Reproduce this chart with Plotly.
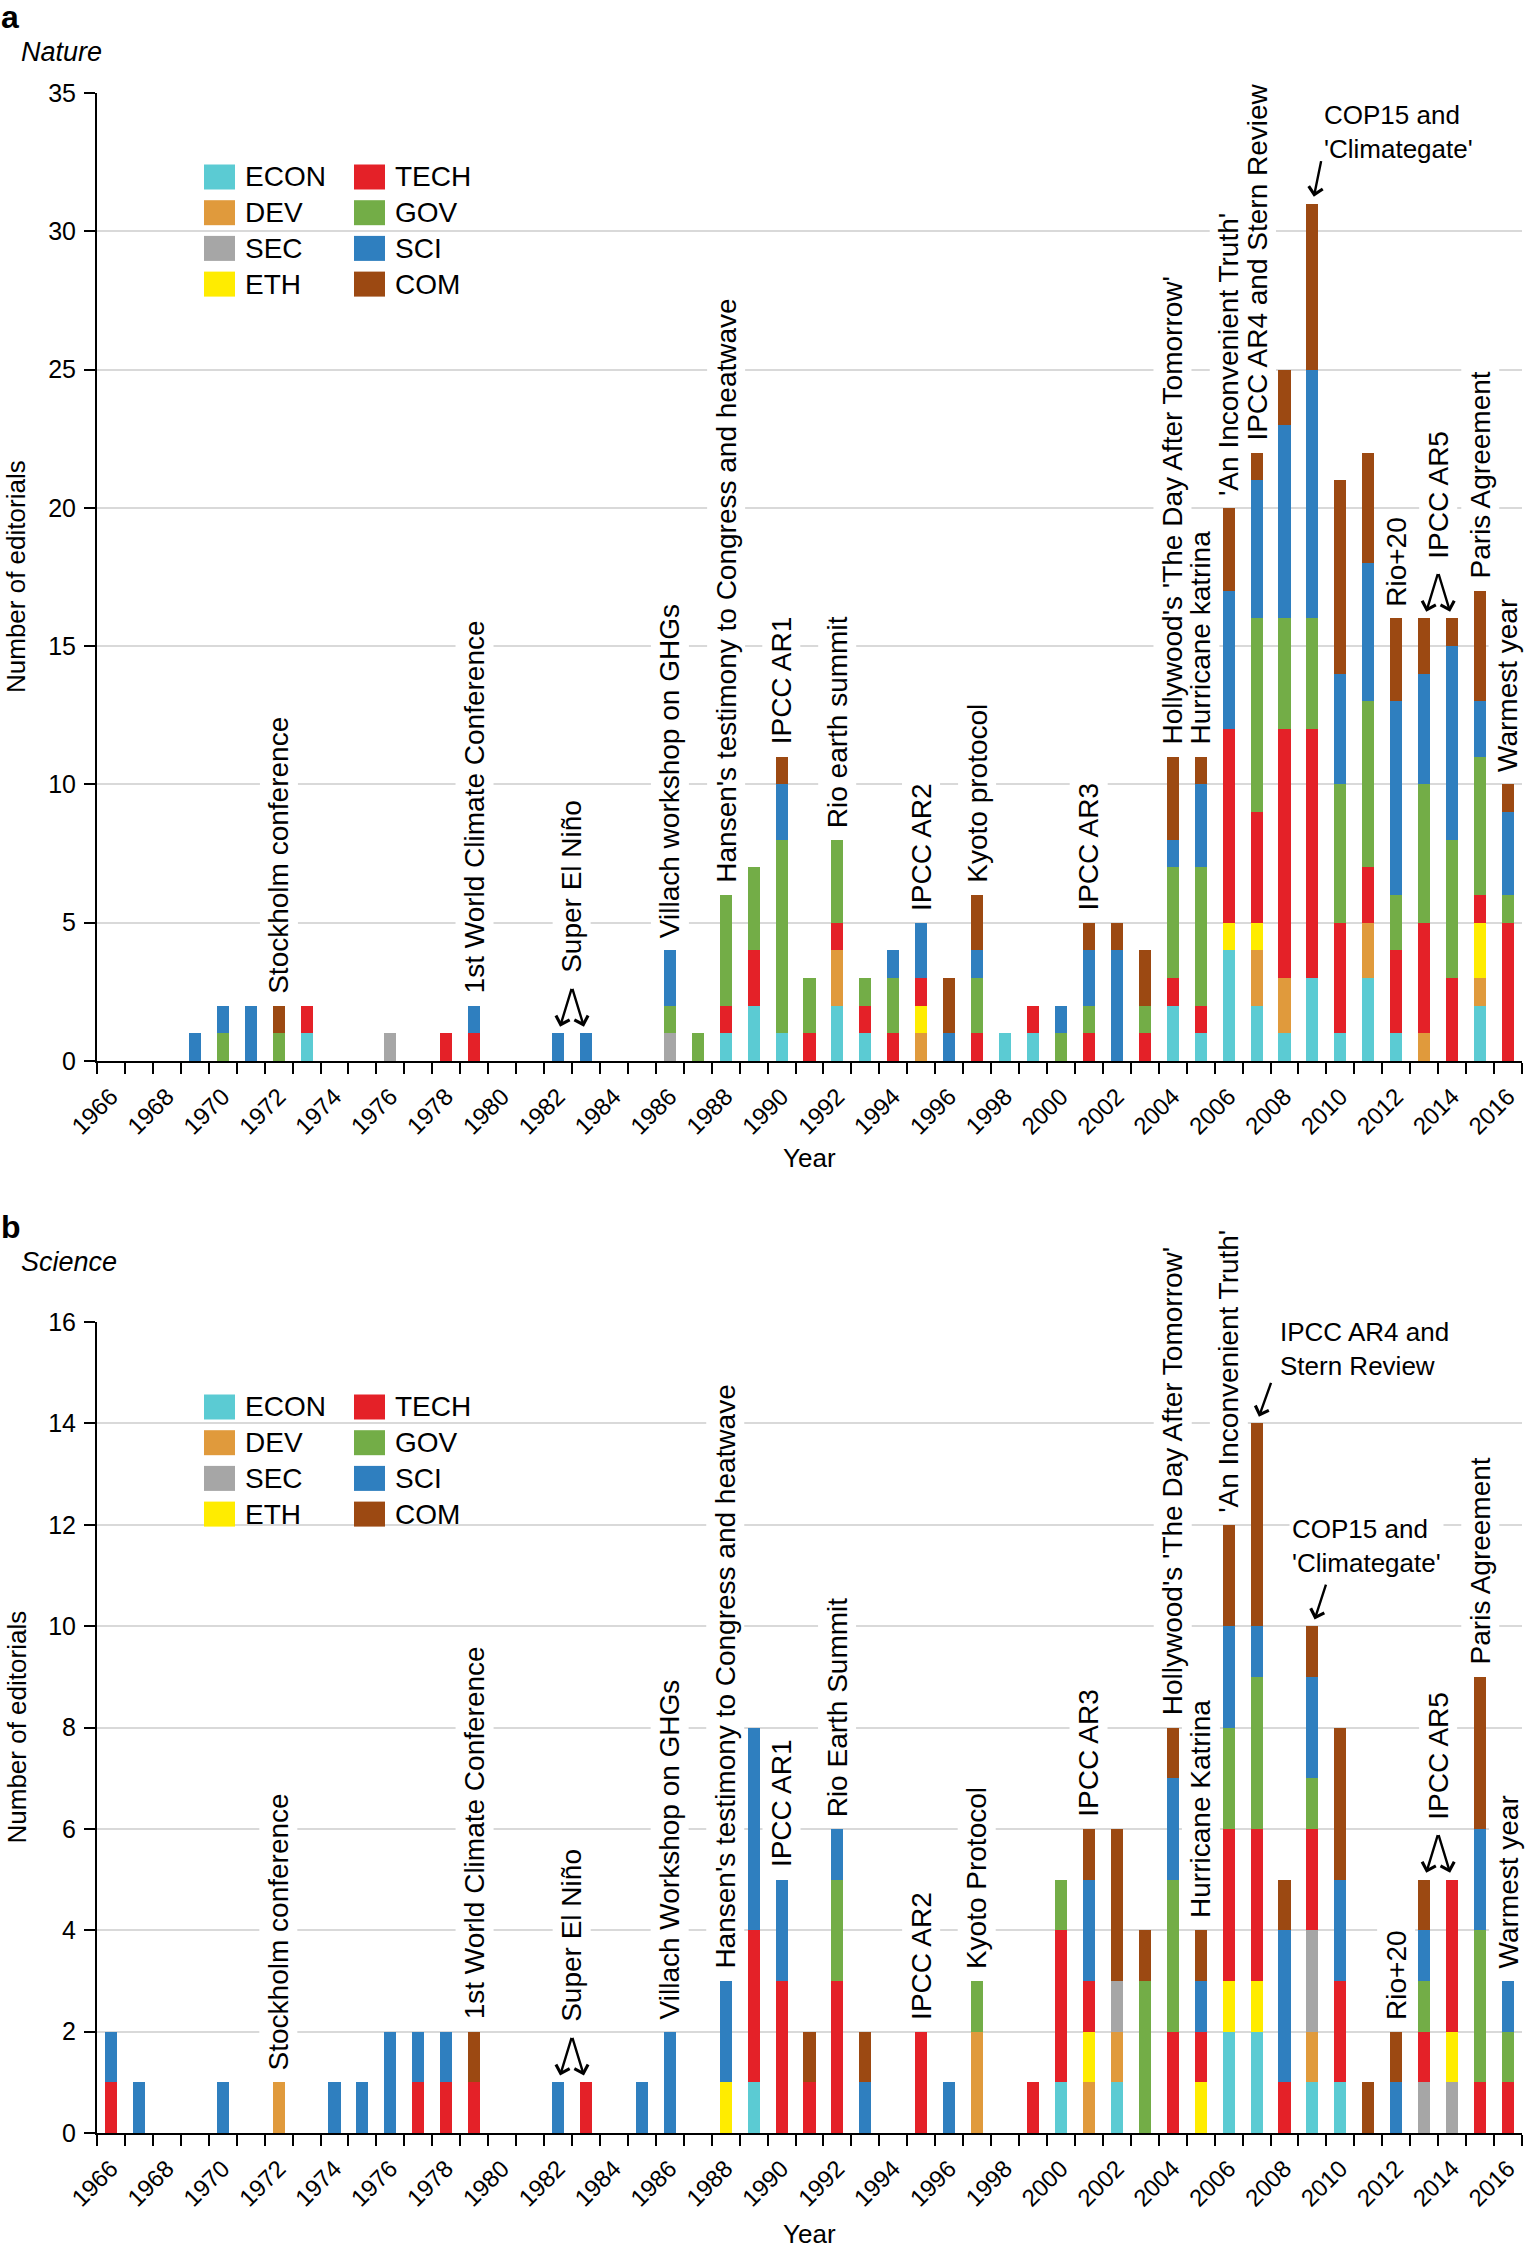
import plotly.graph_objects as go

FONT = "Liberation Sans, Arial, sans-serif"

years = list(range(1966, 2017))
year_ticks = years[::2]
categories = ['ECON', 'DEV', 'SEC', 'ETH', 'TECH', 'GOV', 'SCI', 'COM']
colors = ['#5bcbd3', '#e09a3c', '#a6a6a6', '#ffec00', '#e42128', '#73ad47', '#2f7fbf', '#9c4912']

# Nature editorials per year (1966-1975 | 1976-1985 | 1986-1995 | 1996-2005 | 2006-2016)
nature_econ = [0, 0, 0, 0, 0, 0, 0, 1, 0, 0,  0, 0, 0, 0, 0, 0, 0, 0, 0, 0,
               0, 0, 1, 2, 1, 0, 2, 1, 0, 0,  0, 0, 1, 1, 0, 0, 0, 0, 2, 1,
               4, 2, 1, 3, 1, 3, 1, 0, 0, 2, 0]
nature_dev = [0, 0, 0, 0, 0, 0, 0, 0, 0, 0,  0, 0, 0, 0, 0, 0, 0, 0, 0, 0,
              0, 0, 0, 0, 0, 0, 2, 0, 0, 1,  0, 0, 0, 0, 0, 0, 0, 0, 0, 0,
              0, 2, 2, 0, 0, 2, 0, 1, 0, 1, 0]
nature_sec = [0, 0, 0, 0, 0, 0, 0, 0, 0, 0,  1, 0, 0, 0, 0, 0, 0, 0, 0, 0,
              1, 0, 0, 0, 0, 0, 0, 0, 0, 0,  0, 0, 0, 0, 0, 0, 0, 0, 0, 0,
              0, 0, 0, 0, 0, 0, 0, 0, 0, 0, 0]
nature_eth = [0, 0, 0, 0, 0, 0, 0, 0, 0, 0,  0, 0, 0, 0, 0, 0, 0, 0, 0, 0,
              0, 0, 0, 0, 0, 0, 0, 0, 0, 1,  0, 0, 0, 0, 0, 0, 0, 0, 0, 0,
              1, 1, 0, 0, 0, 0, 0, 0, 0, 2, 0]
nature_tech = [0, 0, 0, 0, 0, 0, 0, 1, 0, 0,  0, 0, 1, 1, 0, 0, 0, 0, 0, 0,
               0, 0, 1, 2, 0, 1, 1, 1, 1, 1,  0, 1, 0, 1, 0, 1, 0, 1, 1, 1,
               7, 4, 9, 9, 4, 2, 3, 4, 3, 1, 5]
nature_gov = [0, 0, 0, 0, 1, 0, 1, 0, 0, 0,  0, 0, 0, 0, 0, 0, 0, 0, 0, 0,
              1, 1, 4, 3, 7, 2, 3, 1, 2, 0,  0, 2, 0, 0, 1, 1, 0, 1, 4, 5,
              0, 7, 4, 4, 5, 6, 2, 5, 5, 5, 1]
nature_sci = [0, 0, 0, 1, 1, 2, 0, 0, 0, 0,  0, 0, 0, 1, 0, 0, 1, 1, 0, 0,
              2, 0, 0, 0, 2, 0, 0, 0, 1, 2,  1, 1, 0, 0, 1, 2, 4, 0, 1, 3,
              5, 5, 7, 9, 4, 5, 7, 4, 7, 2, 3]
nature_com = [0, 0, 0, 0, 0, 0, 1, 0, 0, 0,  0, 0, 0, 0, 0, 0, 0, 0, 0, 0,
              0, 0, 0, 0, 1, 0, 0, 0, 0, 0,  2, 2, 0, 0, 0, 1, 1, 2, 3, 1,
              3, 1, 2, 6, 7, 4, 3, 2, 1, 4, 1]

# Science editorials per year
science_econ = [0, 0, 0, 0, 0, 0, 0, 0, 0, 0,  0, 0, 0, 0, 0, 0, 0, 0, 0, 0,
                0, 0, 0, 1, 0, 0, 0, 0, 0, 0,  0, 0, 0, 0, 1, 0, 1, 0, 0, 0,
                2, 2, 0, 1, 1, 0, 0, 0, 0, 0, 0]
science_dev = [0, 0, 0, 0, 0, 0, 1, 0, 0, 0,  0, 0, 0, 0, 0, 0, 0, 0, 0, 0,
               0, 0, 0, 0, 0, 0, 0, 0, 0, 0,  0, 2, 0, 0, 0, 1, 1, 0, 0, 0,
               0, 0, 0, 1, 0, 0, 0, 0, 0, 0, 0]
science_sec = [0, 0, 0, 0, 0, 0, 0, 0, 0, 0,  0, 0, 0, 0, 0, 0, 0, 0, 0, 0,
               0, 0, 0, 0, 0, 0, 0, 0, 0, 0,  0, 0, 0, 0, 0, 0, 1, 0, 0, 0,
               0, 0, 0, 2, 0, 0, 0, 1, 1, 0, 0]
science_eth = [0, 0, 0, 0, 0, 0, 0, 0, 0, 0,  0, 0, 0, 0, 0, 0, 0, 0, 0, 0,
               0, 0, 1, 0, 0, 0, 0, 0, 0, 0,  0, 0, 0, 0, 0, 1, 0, 0, 0, 1,
               1, 1, 0, 0, 0, 0, 0, 0, 1, 0, 0]
science_tech = [1, 0, 0, 0, 0, 0, 0, 0, 0, 0,  0, 1, 1, 1, 0, 0, 0, 1, 0, 0,
                0, 0, 0, 3, 3, 1, 3, 0, 0, 2,  0, 0, 0, 1, 3, 1, 0, 0, 2, 1,
                3, 3, 1, 2, 2, 0, 0, 1, 3, 1, 1]
science_gov = [0, 0, 0, 0, 0, 0, 0, 0, 0, 0,  0, 0, 0, 0, 0, 0, 0, 0, 0, 0,
               0, 0, 0, 0, 0, 0, 2, 0, 0, 0,  0, 1, 0, 0, 1, 0, 0, 3, 3, 0,
               2, 3, 0, 1, 0, 0, 0, 1, 0, 3, 1]
science_sci = [1, 1, 0, 0, 1, 0, 0, 0, 1, 1,  2, 1, 1, 0, 0, 0, 1, 0, 0, 1,
               2, 0, 2, 4, 2, 0, 1, 1, 0, 0,  1, 0, 0, 0, 0, 2, 0, 0, 2, 1,
               2, 1, 3, 2, 2, 0, 1, 1, 0, 2, 1]
science_com = [0, 0, 0, 0, 0, 0, 0, 0, 0, 0,  0, 0, 0, 1, 0, 0, 0, 0, 0, 0,
               0, 0, 0, 0, 0, 1, 0, 1, 0, 0,  0, 0, 0, 0, 0, 1, 3, 1, 1, 1,
               2, 4, 1, 1, 3, 1, 1, 1, 0, 3, 0]

nature_series = [nature_econ, nature_dev, nature_sec, nature_eth,
                 nature_tech, nature_gov, nature_sci, nature_com]
science_series = [science_econ, science_dev, science_sec, science_eth,
                  science_tech, science_gov, science_sci, science_com]

# event labels
nature_event_years = [1972, 1979, 1986, 1988, 1990, 1992, 1995, 1997, 2001,
                      2004, 2005, 2006, 2007, 2012, 2015, 2016]
nature_event_text = ["Stockholm conference", "1st World Climate Conference",
                     "Villach workshop on GHGs",
                     "Hansen's testimony to Congress and heatwave", "IPCC AR1",
                     "Rio earth summit", "IPCC AR2", "Kyoto protocol", "IPCC AR3",
                     "Hollywood's 'The Day After Tomorrow'", "Hurricane katrina",
                     "'An Inconvenient Truth'", "IPCC AR4 and Stern Review",
                     "Rio+20", "Paris Agreement", "Warmest year"]
nature_pair_years = [(1982, 1983), (2013, 2014)]
nature_pair_text = ["Super El Niño", "IPCC AR5"]
nature_callout_years = [2009]
nature_callout_text = ["COP15 and<br>'Climategate'"]

science_event_years = [1972, 1979, 1986, 1988, 1990, 1992, 1995, 1997, 2001,
                       2004, 2005, 2006, 2012, 2015, 2016]
science_event_text = ["Stockholm conference", "1st World Climate Conference",
                      "Villach Workshop on GHGs",
                      "Hansen's testimony to Congress and heatwave", "IPCC AR1",
                      "Rio Earth Summit", "IPCC AR2", "Kyoto Protocol", "IPCC AR3",
                      "Hollywood's 'The Day After Tomorrow'", "Hurricane Katrina",
                      "'An Inconvenient Truth'", "Rio+20", "Paris Agreement",
                      "Warmest year"]
science_pair_years = [(1982, 1983), (2013, 2014)]
science_pair_text = ["Super El Niño", "IPCC AR5"]
science_callout_years = [2007, 2009]
science_callout_text = ["IPCC AR4 and<br>Stern Review", "COP15 and<br>'Climategate'"]

# -- layout geometry (pixels of the 1534x2250 page)
W, H = 1534, 2250
PL, PR = 97, 1522
A_TOP, A_BOT = 93, 1061
B_TOP, B_BOT = 1322, 2133
PH = B_BOT - A_TOP


def px(x):
    return (x - PL) / (PR - PL)


def py(y):
    return (B_BOT - y) / PH


fig = go.Figure()

panels = [
    dict(series=nature_series, xa='x', ya='y'),
    dict(series=science_series, xa='x2', ya='y2'),
]
for p in panels:
    for i, (cat, vals) in enumerate(zip(categories, p['series'])):
        fig.add_trace(go.Bar(
            x=years, y=vals, name=cat, xaxis=p['xa'], yaxis=p['ya'],
            marker=dict(color=colors[i], line=dict(width=0)), showlegend=False))

annotations = []
bg_annotations = []
shapes = []


def totals(series):
    return [sum(v) for v in zip(*series)]


def add_vertical(xref, yref, x, y, text, yshift):
    base = dict(xref=xref, yref=yref, x=x, y=y, text=text, textangle=-90,
                showarrow=False, xanchor='center', yanchor='bottom',
                yshift=yshift, borderpad=3)
    bg_annotations.append(dict(base, bgcolor='white',
                               font=dict(family=FONT, size=28, color='rgba(0,0,0,0)')))
    annotations.append(dict(base, font=dict(family=FONT, size=28, color='black')))


def add_arrow(xref, yref, x, y, ax, ay):
    annotations.append(dict(xref=xref, yref=yref, x=x, y=y, ax=ax, ay=ay, text='',
                            showarrow=True, arrowhead=4, arrowsize=1.15, arrowwidth=2.4,
                            arrowcolor='black', standoff=7))


def add_panel_text(xref, yref, series, ev_years, ev_text, pair_years, pair_text,
                   call_years, call_text, call_style):
    tot = dict(zip(years, totals(series)))
    for yr, t in zip(ev_years, ev_text):
        add_vertical(xref, yref, yr, tot[yr], t, 8)
    for (y1, y2), t in zip(pair_years, pair_text):
        top = max(tot[y1], tot[y2])
        add_vertical(xref, yref, (y1 + y2) / 2, top, t, 56)
        add_arrow(xref, yref, y1, tot[y1], 14, -46)
        add_arrow(xref, yref, y2, tot[y2], -14, -46)
    for yr, t, st in zip(call_years, call_text, call_style):
        add_arrow(xref, yref, yr, tot[yr], st['ax'], st['ay'])
        base = dict(xref=xref, yref=yref, x=yr, y=tot[yr], text=t, showarrow=False,
                    xanchor='left', yanchor='bottom', align='left',
                    xshift=st['dx'], yshift=st['dy'], borderpad=2)
        bg_annotations.append(dict(base, bgcolor='white',
                                   font=dict(family=FONT, size=26, color='rgba(0,0,0,0)')))
        annotations.append(dict(base, font=dict(family=FONT, size=26, color='black')))


add_panel_text('x', 'y', nature_series, nature_event_years, nature_event_text,
               nature_pair_years, nature_pair_text, nature_callout_years,
               nature_callout_text, [dict(ax=9, ay=-44, dx=9, dy=37)])
add_panel_text('x2', 'y2', science_series, science_event_years, science_event_text,
               science_pair_years, science_pair_text, science_callout_years,
               science_callout_text, [dict(ax=15, ay=-42, dx=20, dy=39),
                                      dict(ax=14, ay=-43, dx=-23, dy=45)])

# legend: two columns of coloured swatches per panel
legend = []
for top, first in ((A_TOP, 84), (B_TOP, 85)):
    # white panel behind the legend, hides the gridlines
    shapes.append(dict(type='rect', xref='paper', yref='paper',
                       x0=px(187), x1=px(490), y0=py(top + first + 135), y1=py(top + first - 30),
                       fillcolor='white', line=dict(width=0), layer='between'))
    for i, (cat, col) in enumerate(zip(categories, colors)):
        cx = 204 if i < 4 else 354
        cy = top + first + (i % 4) * 35.7
        shapes.append(dict(type='rect', xref='paper', yref='paper',
                           x0=px(cx), x1=px(cx + 31), y0=py(cy + 12.5), y1=py(cy - 12.5),
                           fillcolor=col, line=dict(width=0), layer='above'))
        legend.append(dict(xref='paper', yref='paper', x=px(cx + 39), y=py(cy), text=cat,
                           showarrow=False, xanchor='left', yanchor='middle',
                           font=dict(family=FONT, size=28, color='black')))

# axis titles, panel labels
side = []
for ya0, ya1, ybot, gap in [(A_TOP, A_BOT, A_BOT, 97), (B_TOP, B_BOT, B_BOT, 101)]:
    side.append(dict(xref='paper', yref='paper', x=px(16), y=py((ya0 + ya1) / 2),
                     text='Number of editorials', textangle=-90, showarrow=False,
                     xanchor='center', yanchor='middle',
                     font=dict(family=FONT, size=26, color='black')))
    side.append(dict(xref='paper', yref='paper', x=px((PL + PR) / 2), y=py(ybot + gap),
                     text='Year', showarrow=False, xanchor='center', yanchor='middle',
                     font=dict(family=FONT, size=26, color='black')))
for t, x0, y0 in [('<b>a</b>', 0, -2), ('<b>b</b>', 0, 1208)]:
    side.append(dict(xref='paper', yref='paper', x=px(x0), y=py(y0), text=t,
                     showarrow=False, xanchor='left', yanchor='top', borderpad=0,
                     font=dict(family=FONT, size=32, color='black')))
for t, x0, y0 in [('<i>Nature</i>', 19, 52), ('<i>Science</i>', 19, 1262)]:
    side.append(dict(xref='paper', yref='paper', x=px(x0), y=py(y0), text=t,
                     showarrow=False, xanchor='left', yanchor='middle',
                     font=dict(family=FONT, size=27, color='black')))

fig.update_layout(annotations=bg_annotations + annotations + legend + side, shapes=shapes)

xaxis_style = dict(
    type='linear', range=[1965.5, 2016.5], tickmode='array', tickvals=year_ticks,
    ticktext=[str(y) for y in year_ticks], tickangle=-45,
    ticks='outside', ticklen=10, tickcolor='rgba(0,0,0,0)',
    tickfont=dict(family=FONT, size=24, color='black'),
    showline=True, linecolor='black', linewidth=2, showgrid=False, zeroline=False,
    minor=dict(tickmode='linear', tick0=1965.5, dtick=1, ticks='outside',
               ticklen=11, tickwidth=2, tickcolor='black', showgrid=False),
    automargin=False)
yaxis_style = dict(
    ticks='outside', ticklen=11, tickwidth=2, tickcolor='black', ticklabelstandoff=3,
    tickfont=dict(family=FONT, size=25, color='black'),
    showline=True, linecolor='black', linewidth=2, showgrid=True,
    gridcolor='#d9d9d9', gridwidth=1.5, zeroline=False, automargin=False)

fig.update_layout(
    width=W, height=H,
    margin=dict(l=PL, r=W - PR, t=A_TOP, b=H - B_BOT, autoexpand=False),
    paper_bgcolor='white', plot_bgcolor='white',
    barmode='stack', bargap=0.57, showlegend=False,
    font=dict(family=FONT, color='black'),
    xaxis=dict(xaxis_style, anchor='y'),
    yaxis=dict(yaxis_style, domain=[py(A_BOT), 1], range=[0, 35], dtick=5, anchor='x'),
    xaxis2=dict(xaxis_style, anchor='y2'),
    yaxis2=dict(yaxis_style, domain=[0, py(B_TOP)], range=[0, 16], dtick=2, anchor='x2'),
)

# page body has a default 8px margin; drop it so the figure sits at the page origin
fig.write_html("out.html", config={'displayModeBar': False},
               post_script="document.body.style.margin = '0';")
